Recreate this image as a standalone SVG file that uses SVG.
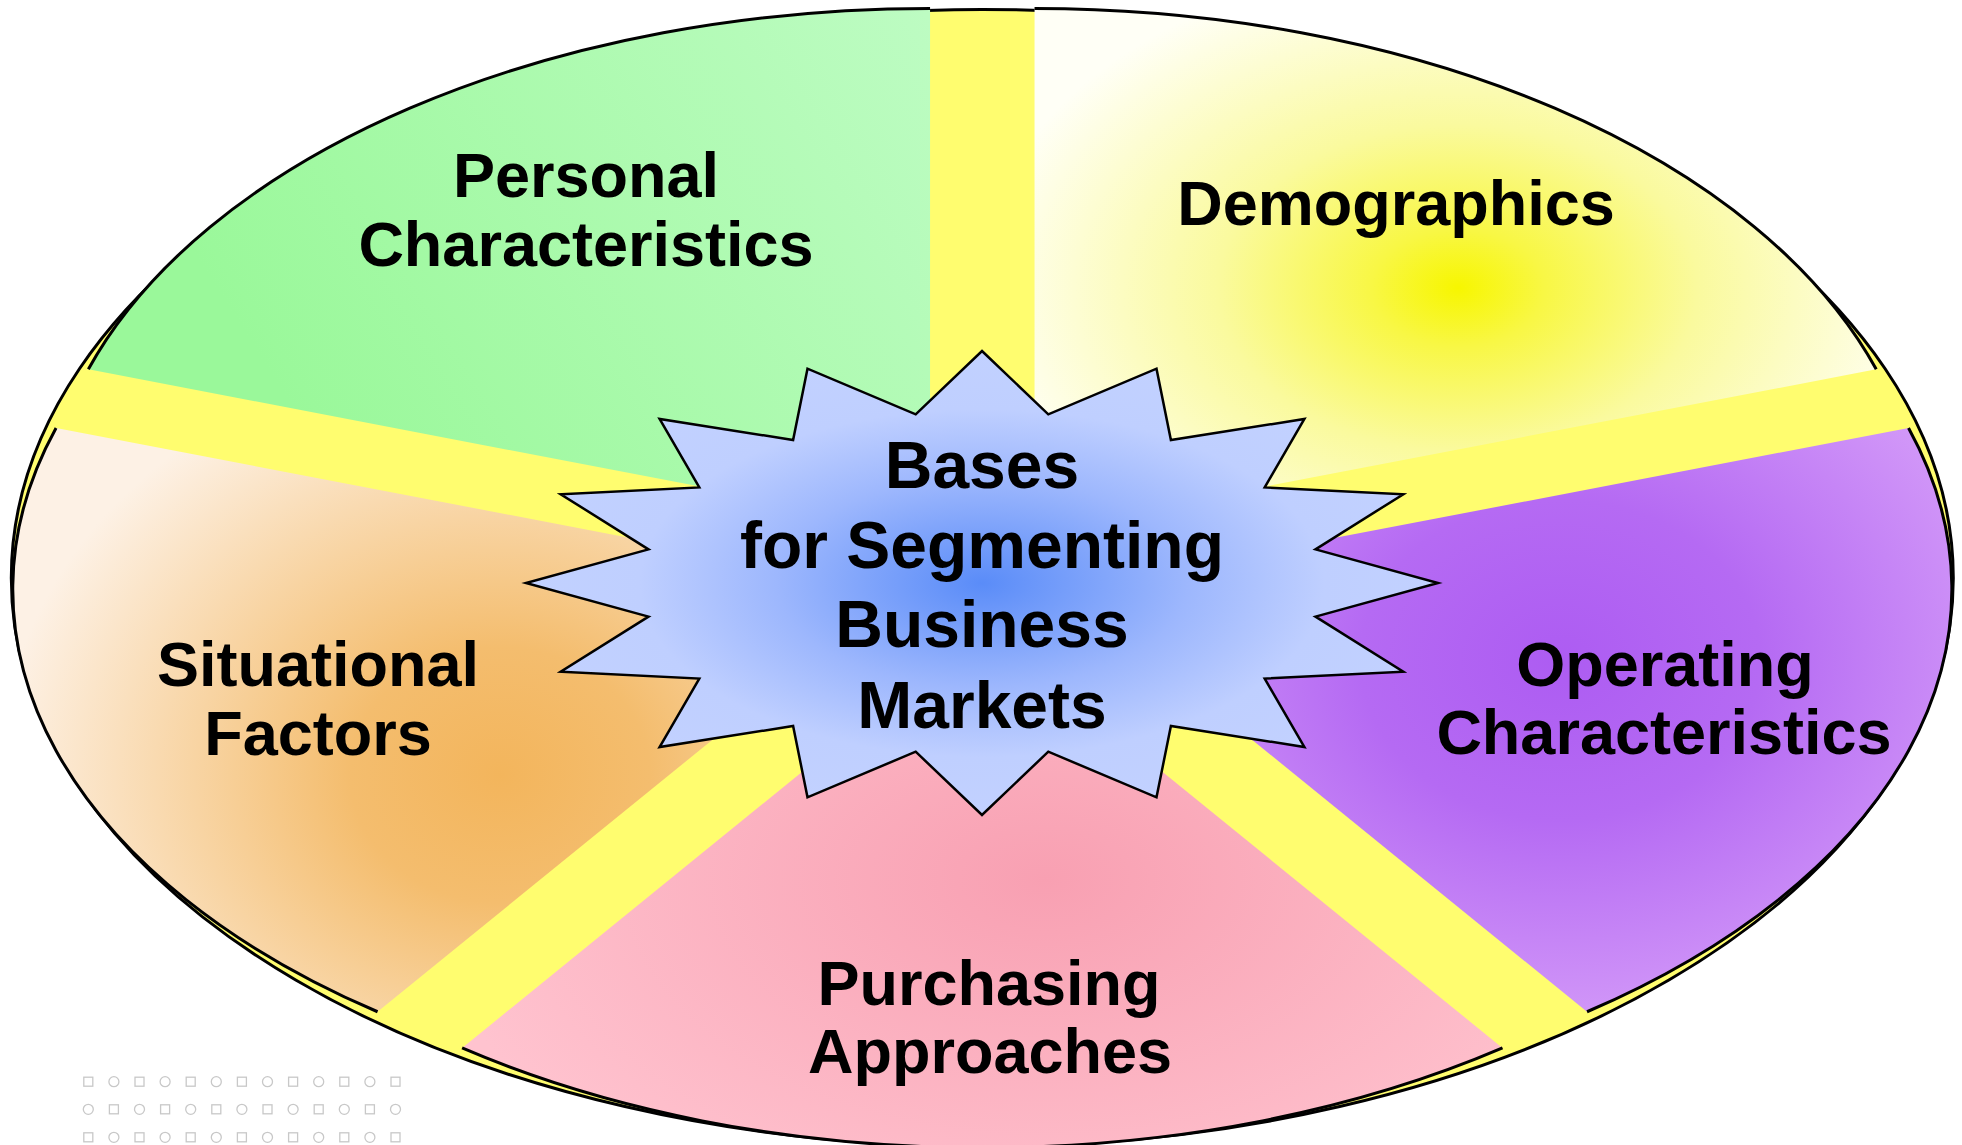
<svg xmlns="http://www.w3.org/2000/svg" width="1962" height="1145" viewBox="0 0 1962 1145">
<defs>
<style>
.lbl{font-family:"Liberation Sans",Arial,sans-serif;font-weight:bold;font-size:63px;fill:#000;text-anchor:middle}
.ctr{font-size:66px}
.arc{fill:none;stroke:#000;stroke-width:3}
.dot{fill:none;stroke:#c8c8c8;stroke-width:1.3}
</style>
<linearGradient id="gGreen" gradientUnits="userSpaceOnUse" x1="300" y1="420" x2="930" y2="20">
<stop offset="0" stop-color="#9af89a"/>
<stop offset="1" stop-color="#bdfcc2"/>
</linearGradient>
<radialGradient id="gDemo" gradientUnits="userSpaceOnUse" cx="1458" cy="288" r="480" gradientTransform="translate(1458 288) scale(1 0.68) translate(-1458 -288)">
<stop offset="0" stop-color="#f7f600"/>
<stop offset="0.18" stop-color="#f8f745"/>
<stop offset="0.5" stop-color="#fafa9e"/>
<stop offset="1" stop-color="#fffff6"/>
</radialGradient>
<radialGradient id="gPurple" gradientUnits="userSpaceOnUse" cx="1560" cy="660" r="500" gradientTransform="translate(1560 660) scale(1 0.8) translate(-1560 -660)">
<stop offset="0" stop-color="#ad5cf2"/>
<stop offset="0.4" stop-color="#b56af3"/>
<stop offset="1" stop-color="#d7a0f9"/>
</radialGradient>
<radialGradient id="gPink" gradientUnits="userSpaceOnUse" cx="1045" cy="880" r="620" gradientTransform="translate(1045 880) scale(1 0.6) translate(-1045 -880)">
<stop offset="0" stop-color="#f8a0b2"/>
<stop offset="1" stop-color="#ffc3cf"/>
</radialGradient>
<radialGradient id="gOrange" gradientUnits="userSpaceOnUse" cx="500" cy="775" r="500" gradientTransform="translate(500 775) scale(1 0.85) translate(-500 -775)">
<stop offset="0" stop-color="#f3b55c"/>
<stop offset="0.3" stop-color="#f4bd6e"/>
<stop offset="1" stop-color="#fdf1e5"/>
</radialGradient>
<radialGradient id="gStar" cx="0.5" cy="0.5" r="0.5">
<stop offset="0" stop-color="#5a8cf8"/>
<stop offset="0.45" stop-color="#9db7fd"/>
<stop offset="0.75" stop-color="#bfcfff"/>
<stop offset="1" stop-color="#c2d1ff"/>
</radialGradient>
</defs>
<rect width="1962" height="1145" fill="#fff"/>

<g id="base">
<ellipse cx="982.3" cy="578" rx="971" ry="568.5" fill="#fffd6f" stroke="#000" stroke-width="3"/>
</g>

<g id="node-demographics">
<path d="M1034.54 530.68 L1034.54 8.5 A885 522.2 0 0 1 1876.25 369.31 Z" fill="url(#gDemo)"/>
<path class="arc" d="M1034.54 8.5 A885 522.2 0 0 1 1876.25 369.31"/>
<text class="lbl" x="1396" y="225">Demographics</text>
</g>

<g id="node-personal">
<path d="M930.06 530.68 L88.35 369.31 A885 522.2 0 0 1 930.06 8.5 Z" fill="url(#gGreen)"/>
<path class="arc" d="M88.35 369.31 A885 522.2 0 0 1 930.06 8.5"/>
<text class="lbl" x="586" y="197">Personal</text>
<text class="lbl" x="586" y="266">Characteristics</text>
</g>

<g id="node-situational">
<path d="M897.77 589.3 L377.57 1011.75 A885 522.2 0 0 1 56.06 427.94 Z" fill="url(#gOrange)"/>
<path class="arc" d="M377.57 1011.75 A885 522.2 0 0 1 56.06 427.94"/>
<text class="lbl" x="318" y="686">Situational</text>
<text class="lbl" x="318" y="755">Factors</text>
</g>

<g id="node-purchasing">
<path d="M982.3 625.54 L1502.51 1047.99 A885 522.2 0 0 1 462.09 1047.99 Z" fill="url(#gPink)"/>
<path class="arc" d="M1502.51 1047.99 A885 522.2 0 0 1 462.09 1047.99"/>
<text class="lbl" x="989" y="1005">Purchasing</text>
<text class="lbl" x="990" y="1073">Approaches</text>
</g>

<g id="node-operating">
<path d="M1066.83 589.3 L1908.54 427.94 A885 522.2 0 0 1 1587.03 1011.75 Z" fill="url(#gPurple)"/>
<path class="arc" d="M1908.54 427.94 A885 522.2 0 0 1 1587.03 1011.75"/>
<text class="lbl" x="1665" y="686">Operating</text>
<text class="lbl" x="1664" y="754">Characteristics</text>
</g>

<g id="node-center">
<path d="M982 351 L1048.3 414.3 L1156.5 368.7 L1170.9 440 L1304.4 419 L1264.7 487.4 L1403.3 494.2 L1315.5 549.4 L1438 583 L1315.5 616.6 L1403.3 671.8 L1264.7 678.6 L1304.4 747 L1170.9 726 L1156.5 797.3 L1048.3 751.7 L982 815 L915.7 751.7 L807.5 797.3 L793.1 726 L659.6 747 L699.3 678.6 L560.7 671.8 L648.5 616.6 L526 583 L648.5 549.4 L560.7 494.2 L699.3 487.4 L659.6 419 L793.1 440 L807.5 368.7 L915.7 414.3 Z" fill="url(#gStar)" stroke="#000" stroke-width="2.5"/>
<text class="lbl ctr" x="982" y="488">Bases</text>
<text class="lbl ctr" x="982" y="568">for Segmenting</text>
<text class="lbl ctr" x="982" y="647">Business</text>
<text class="lbl ctr" x="982" y="728">Markets</text>
</g>

<g id="connectors"></g>

<g id="dots">
<rect class="dot" x="83.8" y="1077.2" width="9" height="9"/>
<circle class="dot" cx="113.9" cy="1081.7" r="5"/>
<rect class="dot" x="135" y="1077.2" width="9" height="9"/>
<circle class="dot" cx="165.1" cy="1081.7" r="5"/>
<rect class="dot" x="186.2" y="1077.2" width="9" height="9"/>
<circle class="dot" cx="216.3" cy="1081.7" r="5"/>
<rect class="dot" x="237.4" y="1077.2" width="9" height="9"/>
<circle class="dot" cx="267.5" cy="1081.7" r="5"/>
<rect class="dot" x="288.6" y="1077.2" width="9" height="9"/>
<circle class="dot" cx="318.7" cy="1081.7" r="5"/>
<rect class="dot" x="339.8" y="1077.2" width="9" height="9"/>
<circle class="dot" cx="369.9" cy="1081.7" r="5"/>
<rect class="dot" x="391" y="1077.2" width="9" height="9"/>

<circle class="dot" cx="88.3" cy="1109.3" r="5"/>
<rect class="dot" x="109.4" y="1104.8" width="9" height="9"/>
<circle class="dot" cx="139.5" cy="1109.3" r="5"/>
<rect class="dot" x="160.6" y="1104.8" width="9" height="9"/>
<circle class="dot" cx="190.7" cy="1109.3" r="5"/>
<rect class="dot" x="211.8" y="1104.8" width="9" height="9"/>
<circle class="dot" cx="241.9" cy="1109.3" r="5"/>
<rect class="dot" x="263" y="1104.8" width="9" height="9"/>
<circle class="dot" cx="293.1" cy="1109.3" r="5"/>
<rect class="dot" x="314.2" y="1104.8" width="9" height="9"/>
<circle class="dot" cx="344.3" cy="1109.3" r="5"/>
<rect class="dot" x="365.4" y="1104.8" width="9" height="9"/>
<circle class="dot" cx="395.5" cy="1109.3" r="5"/>

<rect class="dot" x="83.8" y="1132.8" width="9" height="9"/>
<circle class="dot" cx="113.9" cy="1137.3" r="5"/>
<rect class="dot" x="135" y="1132.8" width="9" height="9"/>
<circle class="dot" cx="165.1" cy="1137.3" r="5"/>
<rect class="dot" x="186.2" y="1132.8" width="9" height="9"/>
<circle class="dot" cx="216.3" cy="1137.3" r="5"/>
<rect class="dot" x="237.4" y="1132.8" width="9" height="9"/>
<circle class="dot" cx="267.5" cy="1137.3" r="5"/>
<rect class="dot" x="288.6" y="1132.8" width="9" height="9"/>
<circle class="dot" cx="318.7" cy="1137.3" r="5"/>
<rect class="dot" x="339.8" y="1132.8" width="9" height="9"/>
<circle class="dot" cx="369.9" cy="1137.3" r="5"/>
<rect class="dot" x="391" y="1132.8" width="9" height="9"/>
</g>
</svg>
